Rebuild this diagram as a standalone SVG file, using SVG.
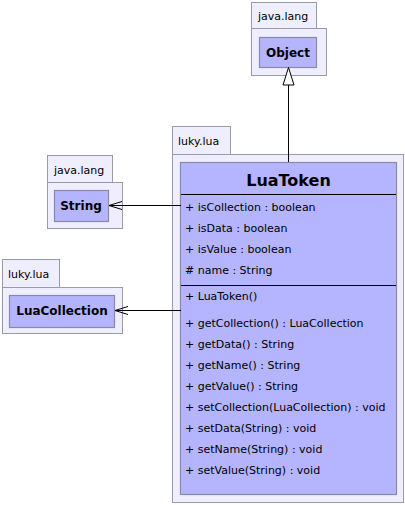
<svg xmlns="http://www.w3.org/2000/svg" width="405" height="505" viewBox="0 0 405 505">
<style>
.pkg{fill:#eeeeff;stroke:#9a9aaa;stroke-width:1}
.cls{fill:#b4b4ff;stroke:#8a8aa6;stroke-width:1.2}
.pt{font-family:"DejaVu Sans",sans-serif;font-size:11px;fill:#000}
.cn{font-family:"DejaVu Sans",sans-serif;font-size:12px;font-weight:bold;fill:#000;text-anchor:middle}
.tn{font-family:"DejaVu Sans",sans-serif;font-size:16px;font-weight:bold;fill:#000;text-anchor:middle}
.m{font-family:"DejaVu Sans",sans-serif;font-size:11px;fill:#000}
.ln{stroke:#000;stroke-width:1;fill:none}
</style>
<defs>
<marker id="open" markerWidth="14" markerHeight="10" refX="13" refY="5" orient="auto" markerUnits="userSpaceOnUse">
<path d="M0,1 L13,5 L0,9" fill="none" stroke="#000" stroke-width="1"/>
</marker>
</defs>
<g id="pkg-object">
<rect class="pkg" x="251.5" y="2.5" width="65" height="26"/>
<rect class="pkg" x="251.5" y="28.5" width="75" height="47"/>
<text class="pt" x="258" y="20">java.lang</text>
<g id="Object">
<rect class="cls" x="259.5" y="37.5" width="57" height="30"/>
<text class="cn" x="288" y="56.5">Object</text>
</g>
</g>
<g id="pkg-string">
<rect class="pkg" x="47.5" y="155.5" width="65" height="27"/>
<rect class="pkg" x="47.5" y="182.5" width="75" height="46"/>
<text class="pt" x="54" y="174">java.lang</text>
<g id="String">
<rect class="cls" x="54.5" y="190.5" width="54" height="31"/>
<text class="cn" x="81" y="210">String</text>
</g>
</g>
<g id="pkg-luacollection">
<rect class="pkg" x="2.5" y="259.5" width="57" height="28"/>
<rect class="pkg" x="2.5" y="287.5" width="120" height="46"/>
<text class="pt" x="8" y="278">luky.lua</text>
<g id="LuaCollection">
<rect class="cls" x="9.5" y="295.5" width="105" height="32"/>
<text class="cn" x="62" y="315">LuaCollection</text>
</g>
</g>
<g id="pkg-luatoken">
<rect class="pkg" x="172.5" y="126.5" width="58" height="28"/>
<rect class="pkg" x="172.5" y="154.5" width="231" height="348"/>
<text class="pt" x="178" y="145">luky.lua</text>
<g id="LuaToken">
<rect class="cls" x="180.5" y="162.5" width="216" height="332"/>
<line class="ln" x1="181" y1="194.5" x2="396" y2="194.5"/>
<line class="ln" x1="181" y1="285.5" x2="396" y2="285.5"/>
<text class="tn" x="288.5" y="186">LuaToken</text>
<text class="m" x="185" y="211">+ isCollection : boolean</text>
<text class="m" x="185" y="232">+ isData : boolean</text>
<text class="m" x="185" y="253">+ isValue : boolean</text>
<text class="m" x="185" y="274"># name : String</text>
<text class="m" x="185" y="300">+ LuaToken()</text>
<text class="m" x="185" y="327">+ getCollection() : LuaCollection</text>
<text class="m" x="185" y="348">+ getData() : String</text>
<text class="m" x="185" y="369">+ getName() : String</text>
<text class="m" x="185" y="390">+ getValue() : String</text>
<text class="m" x="185" y="411">+ setCollection(LuaCollection) : void</text>
<text class="m" x="185" y="432">+ setData(String) : void</text>
<text class="m" x="185" y="453">+ setName(String) : void</text>
<text class="m" x="185" y="474">+ setValue(String) : void</text>
</g>
</g>
<g id="connectors">
<line class="ln" x1="288.5" y1="162" x2="288.5" y2="85"/>
<path d="M288.5,67.5 L283,85 L294,85 Z" fill="#fff" stroke="#000" stroke-width="1"/>
<line class="ln" x1="181" y1="205.5" x2="109" y2="205.5" marker-end="url(#open)"/>
<line class="ln" x1="181" y1="310.5" x2="115" y2="310.5" marker-end="url(#open)"/>
</g>
</svg>
